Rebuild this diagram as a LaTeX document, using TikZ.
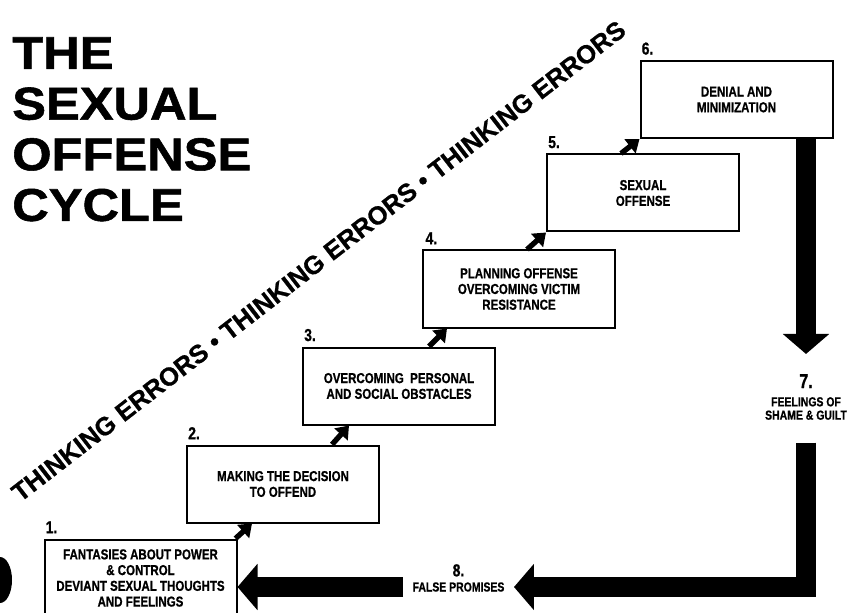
\documentclass[tikz,border=0pt]{standalone}
\usepackage{fontspec}
\setmainfont{Liberation Sans}
\newfontfamily\condfont[FakeStretch=0.8,FakeBold=0.8]{Liberation Sans}
\newfontfamily\titlefont[FakeStretch=1.1,FakeBold=1.2]{Liberation Sans}
\newfontfamily\errfont[FakeBold=0.8]{Liberation Sans}
\usetikzlibrary{calc}
\usetikzlibrary{positioning}
\usetikzlibrary{arrows.meta}
\tikzset{
  stage/.style={draw, line width=1.5pt, fill=white, minimum width=144pt, minimum height=57.75pt,
    align=center, inner sep=0, font={\condfont\bfseries\fontsize{10.8}{11.8}\selectfont}},
  stagenum/.style={inner sep=0, font={\condfont\bfseries\fontsize{13}{13}\selectfont}},
  sidelabel/.style={inner sep=0, align=center, font={\condfont\bfseries\fontsize{9.8}{10}\selectfont}},
  stepper/.style={line width=4pt, -{Triangle[length=9pt,width=13pt]}},
  bigarrow/.style={line width=15pt, -{Triangle[length=15pt,width=34pt]}},
}

\begin{document}
\begin{tikzpicture}[x=0.75pt, y=-0.75pt]
  \useasboundingbox (0,0) rectangle (850,613);
  \clip (0,0) rectangle (850,613);
  \fill[white] (0,0) rectangle (850,613);

  \node[anchor=north west, inner sep=0, align=left, font={\titlefont\bfseries\fontsize{34.5}{38}\selectfont}] (title) at (12,37) {THE\\SEXUAL\\OFFENSE\\CYCLE};

  \node[rotate=37.7, anchor=base, inner sep=0, font={\errfont\bfseries\fontsize{19.2}{20}\selectfont}] (errors) at (324,268) {THINKING ERRORS • THINKING ERRORS • THINKING ERRORS};

  \fill (0,580) ellipse [x radius=12, y radius=23];

  \node[stage] (b1) at (140.5,578) {FANTASIES ABOUT POWER\\\& CONTROL\\DEVIANT SEXUAL THOUGHTS\\AND FEELINGS};
  \node[stage] (b2) at (283,484) {MAKING THE DECISION\\TO OFFEND};
  \node[stage] (b3) at (399,386) {OVERCOMING~ PERSONAL\\AND SOCIAL OBSTACLES};
  \node[stage] (b4) at (519,289) {PLANNING OFFENSE\\OVERCOMING VICTIM\\RESISTANCE};
  \node[stage] (b5) at (643,193) {SEXUAL\\OFFENSE};
  \node[stage] (b6) at (736.5,99.5) {DENIAL AND\\MINIMIZATION};

  \node[stagenum, above right=3.75pt and 1.5pt of b1.north west] (n1) {1.};
  \node[stagenum, above right=3.75pt and 1.5pt of b2.north west] (n2) {2.};
  \node[stagenum, above right=3.75pt and 1.5pt of b3.north west] (n3) {3.};
  \node[stagenum, above right=3.75pt and 2.5pt of b4.north west] (n4) {4.};
  \node[stagenum, above right=3.75pt and 1.5pt of b5.north west] (n5) {5.};
  \node[stagenum, above right=3.75pt and 1.5pt of b6.north west] (n6) {6.};

  \draw[stepper] ($(b1.north east)+(-2,0)$) -- ($(b2.south west)+(66,0)$);
  \draw[stepper] ($(b2.north west)+(146,0)$) -- ($(b3.south west)+(47,0)$);
  \draw[stepper] ($(b3.north west)+(127,0)$) -- ($(b4.south west)+(25,0)$);
  \draw[stepper] ($(b4.north west)+(105,0)$) -- (b5.south west);
  \draw[stepper] ($(b5.north west)+(75,0)$) -- (b6.south west);

  \node[sidelabel] (l7) at (806,408.5) {FEELINGS OF\\SHAME \& GUILT};
  \node[stagenum, above=6.5pt of l7, font={\condfont\bfseries\fontsize{15}{15}\selectfont}] (n7) {7.};
  \node[sidelabel, inner xsep=7pt] (fp) at (458.5,587) {FALSE PROMISES};
  \node[stagenum, above=4pt of fp] (n8) {8.};

  \draw[bigarrow, shorten >=15pt] (b6.south -| n7.north) -- (n7.north);
  \draw[bigarrow, shorten <=17pt] (l7.south) |- (fp.east);
  \draw[bigarrow] (fp.west) -- (fp.west -| b1.east);

\end{tikzpicture}
\end{document}
